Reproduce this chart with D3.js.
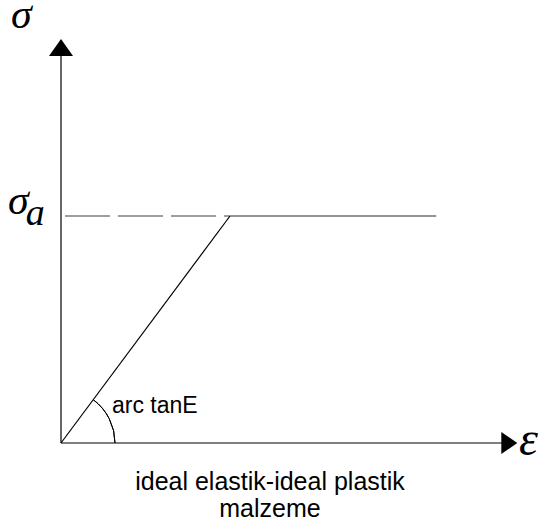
<!DOCTYPE html>
<html>
<head>
<meta charset="utf-8">
<script src="https://cdn.jsdelivr.net/npm/d3@7"></script>
<style>
  body { margin: 0; background: #fff; }
  svg { display: block; }
</style>
</head>
<body>
<svg id="chart" width="549" height="527"></svg>
<script>
// Ideal elastic - ideal plastic material, stress-strain sketch.

// strain in units of yield strain, stress in units of yield stress
const curveStrain = [0, 1, 2.22];
const curveStress = [0, 1, 1];
const yieldStress = 1;
const axisMax = { strain: 2.7, stress: 1.78 };
const angleLabel = "arc tanE";
const caption = ["ideal elastik-ideal plastik", "malzeme"];

const svg = d3.select("#chart");
const origin = { x: 61, y: 443 };

const x = d3.scaleLinear().domain([0, 1]).range([origin.x, 230]);
const y = d3.scaleLinear().domain([0, 1]).range([origin.y, 216]);

// axes
svg.append("line")
  .attr("x1", x(0)).attr("y1", y(0))
  .attr("x2", x(axisMax.strain) - 14).attr("y2", y(0))
  .attr("stroke", "#000").attr("stroke-width", 1.2);
svg.append("line")
  .attr("x1", x(0)).attr("y1", y(0))
  .attr("x2", x(0)).attr("y2", y(axisMax.stress) + 14)
  .attr("stroke", "#000").attr("stroke-width", 1.2);

// arrow heads
const xt = x(axisMax.strain), yt = y(axisMax.stress);
svg.append("path")
  .attr("d", `M${xt},${y(0)} L${xt - 16},${y(0) - 11} L${xt - 16},${y(0) + 11} Z`)
  .attr("fill", "#000");
svg.append("path")
  .attr("d", `M${x(0)},${yt} L${x(0) - 12},${yt + 17} L${x(0) + 12},${yt + 17} Z`)
  .attr("fill", "#000");

// dashed yield level
svg.append("line")
  .attr("x1", x(0) + 4).attr("y1", y(yieldStress))
  .attr("x2", x(curveStrain[1])).attr("y2", y(yieldStress))
  .attr("stroke", "#7f7f7f").attr("stroke-width", 1.6)
  .attr("stroke-dasharray", "45,8");

// elastic segment
svg.append("line")
  .attr("x1", x(curveStrain[0])).attr("y1", y(curveStress[0]))
  .attr("x2", x(curveStrain[1])).attr("y2", y(curveStress[1]))
  .attr("stroke", "#000").attr("stroke-width", 1.2);

// plastic segment
svg.append("line")
  .attr("x1", x(curveStrain[1])).attr("y1", y(curveStress[1]))
  .attr("x2", x(curveStrain[2])).attr("y2", y(curveStress[2]))
  .attr("stroke", "#6f6f6f").attr("stroke-width", 1.6);

// angle arc
const ang = Math.atan2(y(0) - y(curveStress[1]), x(curveStrain[1]) - x(0));
const r = 54;
svg.append("path")
  .attr("d", d3.arc()({ innerRadius: r, outerRadius: r, startAngle: Math.PI / 2 - ang, endAngle: Math.PI / 2 }))
  .attr("transform", `translate(${origin.x},${origin.y})`)
  .attr("fill", "none").attr("stroke", "#000").attr("stroke-width", 1);

svg.append("text")
  .attr("x", 112).attr("y", 413)
  .attr("font-family", "Liberation Sans, Arial, sans-serif")
  .attr("font-size", 23)
  .text(angleLabel);

// symbols
const serif = "Liberation Serif, Times New Roman, serif";
svg.append("text")
  .attr("x", 11).attr("y", 28)
  .attr("font-family", serif).attr("font-style", "italic")
  .attr("font-size", 42)
  .text("σ");
const sa = svg.append("text")
  .attr("x", 8).attr("y", 214)
  .attr("font-family", serif).attr("font-style", "italic")
  .attr("font-size", 42);
sa.append("tspan").text("σ");
sa.append("tspan").attr("font-size", 38).attr("dy", 11).attr("dx", -3).text("a");

svg.append("text")
  .attr("x", 519).attr("y", 455)
  .attr("font-family", serif).attr("font-style", "italic")
  .attr("font-size", 48)
  .text("ε");

// caption
svg.selectAll(".caption")
  .data(caption)
  .join("text")
  .attr("class", "caption")
  .attr("x", 270)
  .attr("y", (d, i) => 490 + i * 27)
  .attr("text-anchor", "middle")
  .attr("font-family", "Liberation Sans, Arial, sans-serif")
  .attr("font-size", 25)
  .text(d => d);
</script>
</body>
</html>
